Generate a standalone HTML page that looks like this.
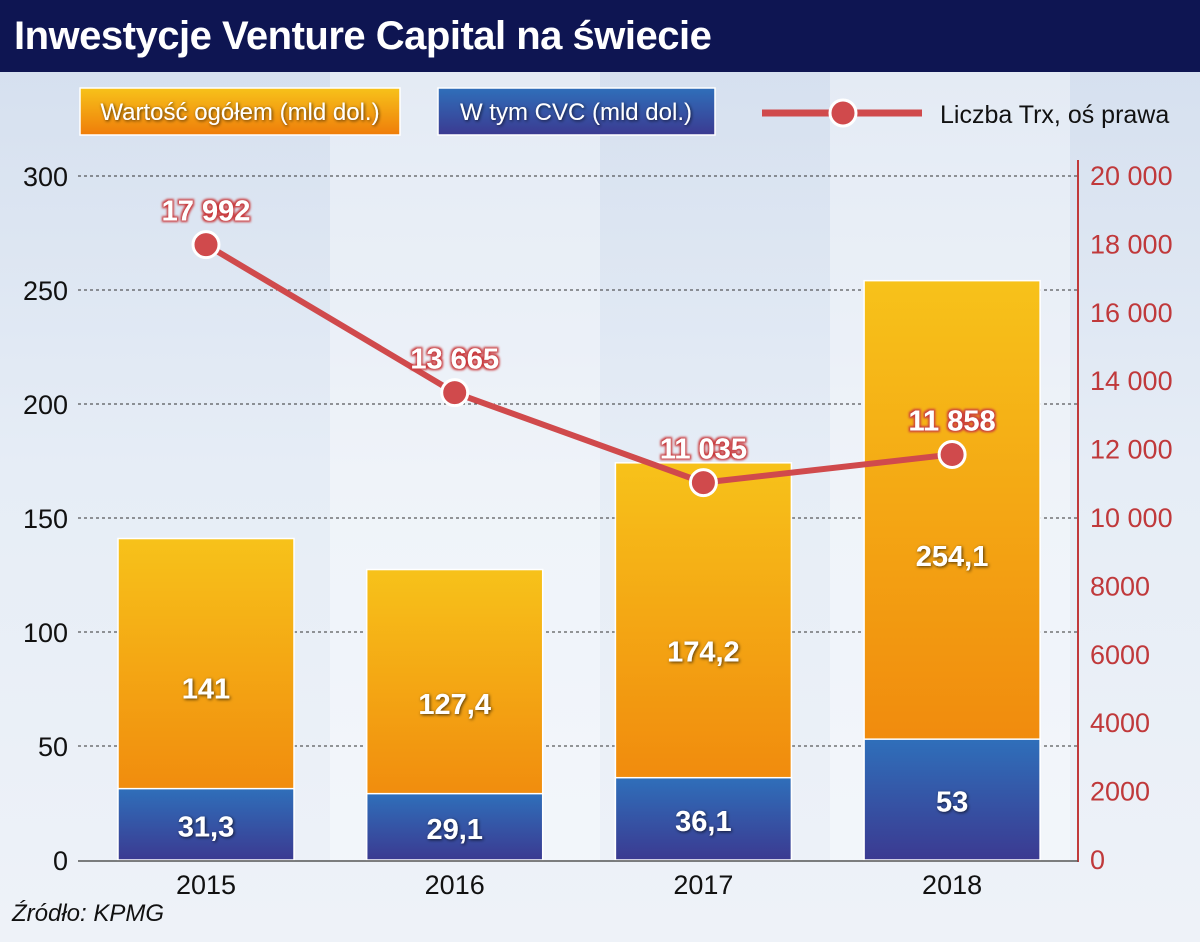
<!DOCTYPE html>
<html><head><meta charset="utf-8">
<style>
body{margin:0;width:1200px;height:942px;overflow:hidden;font-family:"Liberation Sans",sans-serif;}
#wrap{position:relative;width:1200px;height:942px;background:linear-gradient(180deg,#d3deee 0%,#e6edf6 50%,#eef2f8 100%);}
#title{position:absolute;left:0;top:0;width:1200px;height:72px;background:#0e1552;color:#fff;font-weight:bold;font-size:40px;line-height:72px;padding-left:14px;box-sizing:border-box;letter-spacing:-0.5px}
svg{position:absolute;left:0;top:0}
</style></head><body>
<div id="wrap">
<svg width="1200" height="942" id="chart">
 <defs>
  <linearGradient id="og" x1="0" y1="0" x2="0" y2="1"><stop offset="0" stop-color="#f7c21a"/><stop offset="1" stop-color="#ef7d0a"/></linearGradient>
  <linearGradient id="bg" x1="0" y1="0" x2="0" y2="1"><stop offset="0" stop-color="#2f6fba"/><stop offset="1" stop-color="#3b3a91"/></linearGradient>
  <filter id="sh"><feDropShadow dx="1" dy="1" stdDeviation="1.5" flood-color="#000" flood-opacity="0.7"/></filter>
  <filter id="rs"><feMorphology operator="dilate" radius="1.5" in="SourceAlpha" result="d"/><feGaussianBlur in="d" stdDeviation="1" result="b"/><feFlood flood-color="#c9393c"/><feComposite in2="b" operator="in" result="o"/><feMerge><feMergeNode in="o"/><feMergeNode in="SourceGraphic"/></feMerge></filter>
 </defs>
 <rect x="330" y="72" width="270" height="790" fill="#ffffff" opacity="0.35"/>
 <rect x="830" y="72" width="240" height="790" fill="#ffffff" opacity="0.35"/>
 <g id="grid"></g><g id="bars"></g><g id="line"></g><g id="axes"></g>
 <g>
  <rect x="80" y="88" width="320" height="47" fill="url(#og)" stroke="#fff" stroke-width="1.5"/>
  <text x="240" y="120" text-anchor="middle" fill="#fff" font-size="24" filter="url(#sh)">Wartość ogółem (mld dol.)</text>
  <rect x="438" y="88" width="277" height="47" fill="url(#bg)" stroke="#fff" stroke-width="1.5"/>
  <text x="576" y="120" text-anchor="middle" fill="#fff" font-size="24" filter="url(#sh)">W tym CVC (mld dol.)</text>
  <line x1="762" y1="113" x2="922" y2="113" stroke="#d04a4c" stroke-width="7"/>
  <circle cx="843" cy="113" r="13" fill="#d04a4c" stroke="#fff" stroke-width="3"/>
  <text x="940" y="123" fill="#111" font-size="25">Liczba Trx, oś prawa</text>
 </g>
</svg>
<div id="title">Inwestycje Venture Capital na świecie</div>
<div style="position:absolute;left:12px;top:900px;font-size:24px;font-style:italic;color:#111">Źródło: KPMG</div>
</div>
<script>
const categories=["2015","2016","2017","2018"];
const totalValues=[141,127.4,174.2,254.1];
const cvcValues=[31.3,29.1,36.1,53];
const trxValues=[17992,13665,11035,11858];
const leftTicks=[0,50,100,150,200,250,300];
const rightTicks=[0,2000,4000,6000,8000,10000,12000,14000,16000,18000,20000];
const NS="http://www.w3.org/2000/svg";
const y0=860,plotH=684;
const yL=v=>y0-v/300*plotH;
const yR=v=>y0-v/20000*plotH;
const xC=i=>206+i*248.7;
const bw=176;
function mk(tag,attrs,parent,text){const e=document.createElementNS(NS,tag);for(const k in attrs)e.setAttribute(k,attrs[k]);if(text!==undefined)e.textContent=text;document.getElementById(parent).appendChild(e);return e;}
const fmt=v=>String(v).replace('.',',');
const fmtR=v=>v>=10000?String(v).replace(/(\d)(?=(\d{3})$)/,'$1 '):String(v);
leftTicks.forEach(t=>{
 if(t>0){const g=mk('line',{x1:78,x2:1078,y1:yL(t),y2:yL(t),stroke:'#333','stroke-dasharray':'3,3','stroke-width':1},'grid');
 
 }
 const l=mk('text',{x:68,y:yL(t)+10,'text-anchor':'end','font-size':27,fill:'#111'},'axes',t);
 
 
});
rightTicks.forEach(t=>{
 const l=mk('text',{x:1090,y:yR(t)+9,'font-size':27,fill:'#c0393b'},'axes',fmtR(t));
 
 
});
const ax=mk('line',{x1:1078,x2:1078,y1:160,y2:862,stroke:'#c0393b','stroke-width':2},'axes');


const bx=mk('line',{x1:78,x2:1078,y1:861,y2:861,stroke:'#555','stroke-width':1.5},'axes');


categories.forEach((c,i)=>{
 const x=xC(i)-bw/2;
 const r1=mk('rect',{x:x,y:yL(totalValues[i]),width:bw,height:y0-yL(totalValues[i]),fill:'url(#og)',stroke:'#fff','stroke-width':1.5},'bars');
 
 
 const r2=mk('rect',{x:x,y:yL(cvcValues[i]),width:bw,height:y0-yL(cvcValues[i]),fill:'url(#bg)',stroke:'#fff','stroke-width':1.5},'bars');
 
 
 const top=yL(totalValues[i]),bot=yL(cvcValues[i]);
 const t1=mk('text',{x:xC(i),y:top+(bot-top)*0.6+10,'text-anchor':'middle','font-size':29,'font-weight':'bold',fill:'#fff',filter:'url(#sh)'},'bars',fmt(totalValues[i]));
 
 
 const t2=mk('text',{x:xC(i),y:(yL(cvcValues[i])+y0)/2+12,'text-anchor':'middle','font-size':29,'font-weight':'bold',fill:'#fff',filter:'url(#sh)'},'bars',fmt(cvcValues[i]));
 
 
 const xl=mk('text',{x:xC(i),y:894,'text-anchor':'middle','font-size':27,fill:'#111'},'axes',c);
 
 
});
const pl=mk('polyline',{points:trxValues.map((v,i)=>xC(i)+','+yR(v)).join(' '),fill:'none',stroke:'#d04a4c','stroke-width':6,'stroke-linejoin':'round'},'line');


trxValues.forEach((v,i)=>{
 const c=mk('circle',{cx:xC(i),cy:yR(v),r:13,fill:'#d04a4c',stroke:'#fff','stroke-width':3},'line');
 
 
 const t=mk('text',{x:xC(i),y:yR(v)-24,'text-anchor':'middle','font-size':29,'font-weight':'bold',fill:'#fff',filter:'url(#rs)'},'line',fmtR(v));
 
 
});
</script>
</body></html>
